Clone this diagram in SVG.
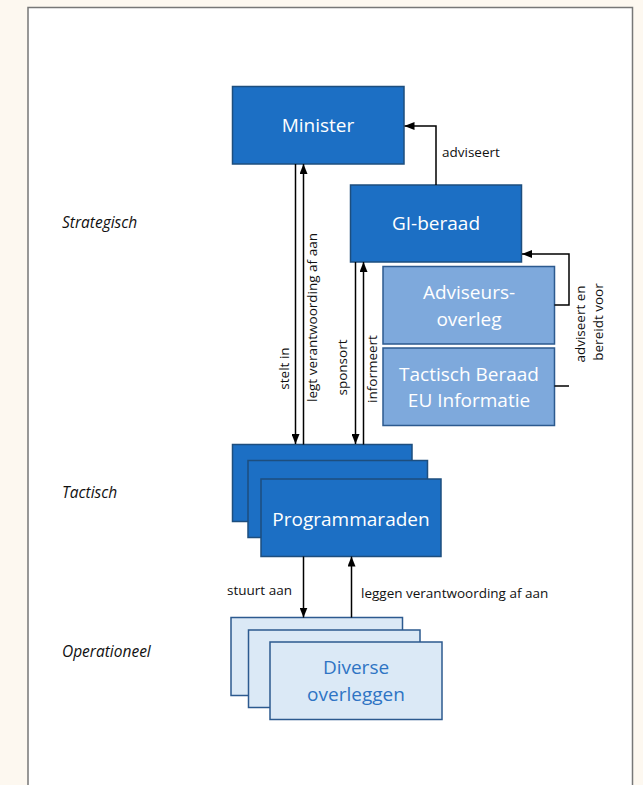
<svg xmlns="http://www.w3.org/2000/svg" width="643" height="785" viewBox="0 0 643 785">
<defs>
<style>
.dark{fill:#1c6fc4;stroke:#1d4e7e;stroke-width:1.5}
.mid{fill:#7ea9dc;stroke:#2c5a8f;stroke-width:1.5}
.light{fill:#dbe9f6;stroke:#2c5a8f;stroke-width:1.5}
.bt{font-family:"Open Sans","Noto Sans",sans-serif;font-size:19px;fill:#ffffff;text-anchor:middle}
.lt{font-family:"Open Sans","Noto Sans",sans-serif;font-size:19px;fill:#2e74c4;text-anchor:middle}
.lbl{font-family:"Open Sans","Noto Sans",sans-serif;font-size:13.5px;fill:#111}
.lvl{font-family:"Open Sans","Noto Sans",sans-serif;font-size:15.5px;font-style:italic;fill:#111}
.con{fill:none;stroke:#000;stroke-width:1.5}
</style>
<marker id="ah" markerUnits="userSpaceOnUse" markerWidth="10" markerHeight="8" refX="10" refY="4" orient="auto">
<path d="M0,0 L10,4 L0,8 z" fill="#000"/>
</marker>
</defs>
<rect x="0" y="0" width="643" height="785" fill="#fdf8f0"/>
<rect x="28" y="7.5" width="604.5" height="800" fill="#ffffff" stroke="#777" stroke-width="1.5"/>

<g id="levels">
<text class="lvl" x="62" y="228">Strategisch</text>
<text class="lvl" x="62" y="498">Tactisch</text>
<text class="lvl" x="62" y="657">Operationeel</text>
</g>

<g id="minister">
<rect class="dark" x="232.5" y="86.5" width="171.5" height="77.5"/>
<text class="bt" x="318" y="132">Minister</text>
</g>
<g id="gi-beraad">
<rect class="dark" x="350.5" y="185" width="171" height="77"/>
<text class="bt" x="436" y="230">GI-beraad</text>
</g>
<g id="adviseursoverleg">
<rect class="mid" x="383" y="266.5" width="171.5" height="77.5"/>
<text class="bt" x="469" y="299">Adviseurs-</text>
<text class="bt" x="469" y="326">overleg</text>
</g>
<g id="tactisch-beraad">
<rect class="mid" x="383" y="348" width="171.5" height="77.5"/>
<text class="bt" x="469" y="380.5">Tactisch Beraad</text>
<text class="bt" x="469" y="406.5">EU Informatie</text>
</g>
<g id="programmaraden">
<rect class="dark" x="232.5" y="444.5" width="179.5" height="77"/>
<rect class="dark" x="248" y="460.5" width="179.5" height="77"/>
<rect class="dark" x="261" y="479" width="180" height="77.5"/>
<text class="bt" x="351" y="526">Programmaraden</text>
</g>
<g id="diverse-overleggen">
<rect class="light" x="231" y="617.5" width="171.5" height="78"/>
<rect class="light" x="248.5" y="630" width="171.5" height="77.5"/>
<rect class="light" x="270" y="642" width="172" height="77.5"/>
<text class="lt" x="356" y="674">Diverse</text>
<text class="lt" x="356" y="701">overleggen</text>
</g>

<g id="connectors">
<path class="con" d="M436,185 V126 H404.5" marker-end="url(#ah)"/>
<path class="con" d="M295.5,164 V444" marker-end="url(#ah)"/>
<path class="con" d="M303.5,444.5 V164" marker-end="url(#ah)"/>
<path class="con" d="M355.5,262 V444" marker-end="url(#ah)"/>
<path class="con" d="M363.5,444.5 V262" marker-end="url(#ah)"/>
<path class="con" d="M554.5,305 H569 V254 H522" marker-end="url(#ah)"/>
<path class="con" d="M554.5,386 H569"/>
<path class="con" d="M303.5,556.5 V617.5" marker-end="url(#ah)"/>
<path class="con" d="M351.5,617.5 V556.5" marker-end="url(#ah)"/>
<text class="lbl" x="442" y="157">adviseert</text>
<text class="lbl" x="227" y="594.5">stuurt aan</text>
<text class="lbl" x="361" y="598">leggen verantwoording af aan</text>
<text class="lbl" text-anchor="middle" transform="translate(288.8,368.5) rotate(-90)">stelt in</text>
<text class="lbl" text-anchor="middle" transform="translate(316.5,317.5) rotate(-90)">legt verantwoording af aan</text>
<text class="lbl" text-anchor="middle" transform="translate(347.2,367.5) rotate(-90)">sponsort</text>
<text class="lbl" text-anchor="middle" transform="translate(377.2,369) rotate(-90)">informeert</text>
<text class="lbl" text-anchor="middle" transform="translate(584.5,324) rotate(-90)">adviseert en</text>
<text class="lbl" text-anchor="middle" transform="translate(602.8,322) rotate(-90)">bereidt voor</text>
</g>
</svg>
